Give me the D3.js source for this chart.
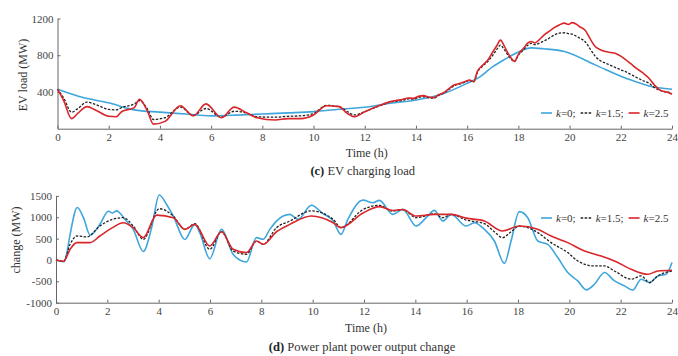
<!DOCTYPE html>
<html>
<head>
<meta charset="utf-8">
<script src="https://cdn.jsdelivr.net/npm/d3@7"></script>
<style>
  body { margin: 0; background: #fff; }
  text { font-family: "Liberation Serif", "Times New Roman", serif; fill: #333; }
  .axis path, .axis line { stroke: #666; }
</style>
</head>
<body>
<div id="chart"></div>
<script>
const width = 678, height = 356;

// ---- data: (c) EV charging load, MW
const evHoursK0 = [0, 1, 2, 3, 4, 5, 6, 7, 8, 9, 10, 11, 12, 13, 14, 15, 16, 16.5, 17, 17.5, 18, 18.5, 19, 19.8, 21, 22.2, 23.1, 24];
const evLoadK0 = [430, 340, 282, 205, 180, 160, 140, 148, 160, 172, 186, 212, 233, 277, 313, 375, 495, 565, 675, 760, 835, 880, 870, 840, 695, 550, 465, 430];

const evHours = [0, 0.25, 0.55, 0.8, 1.15, 1.5, 2, 2.3, 2.5, 3, 3.2, 3.5, 3.75, 4.2, 4.8, 5.3, 5.8, 6.4, 6.9, 7.4, 7.8, 8.5, 9, 9.5, 10, 10.5, 11, 11.3, 11.6, 12, 12.5, 13,
  13.5, 13.7, 13.9, 14.1, 14.3, 14.5, 14.7, 14.9, 15.1, 15.3, 15.5, 15.7, 15.9, 16.1, 16.25, 16.4, 16.6, 16.8, 17, 17.15, 17.3, 17.45, 17.6, 17.85,
  18, 18.2, 18.35, 18.5, 18.65, 18.8, 19, 19.2, 19.4, 19.6, 19.8, 19.95, 20.1, 20.25, 20.4, 20.6, 20.8, 21, 21.2, 21.4, 21.6, 21.8, 22, 22.2, 22.4, 22.6, 22.85,
  23.1, 23.3, 23.5, 23.7, 23.85, 24];
const evLoadK15 = [430, 330, 180, 220, 290, 262, 210, 205, 230, 270, 305, 220, 100, 120, 235, 145, 220, 125, 190, 170, 130, 125, 135, 140, 165, 255, 240, 190, 150, 185, 240, 290,
  310, 325, 322, 340, 348, 335, 332, 365, 390, 430, 468, 485, 505, 525, 508, 615, 680, 730, 800, 860, 910, 860, 800, 730,
  800, 860, 905, 930, 915, 930, 955, 985, 1020, 1040, 1045, 1035, 1030, 1010, 985, 950, 870, 790, 740, 715, 690, 665, 640, 620, 590, 560, 525,
  495, 450, 420, 405, 398, 390];
const evLoadK25 = [430, 300, 110, 170, 240, 200, 135, 130, 185, 230, 320, 200, 50, 80, 250, 140, 270, 120, 235, 170, 120, 95, 110, 110, 150, 250, 240, 170, 130, 185, 245, 295,
  320, 335, 330, 352, 360, 345, 338, 372, 395, 440, 478, 492, 510, 530, 512, 625, 690, 745, 835, 900, 965, 900, 820, 735,
  810, 875, 930, 950, 935, 965, 1020, 1060, 1100, 1130, 1150, 1135, 1155, 1140, 1110, 1075, 980, 895, 860, 840, 830, 820, 790, 750, 705, 660, 610,
  550, 480, 425, 405, 395, 375];

// ---- data: (d) power plant output change, MW
const ppHoursK0 = [0, 0.3, 0.4, 0.55, 0.83, 1.07, 1.33, 1.71, 2.04, 2.2, 2.36, 2.69, 3.01, 3.4, 3.73, 4.02, 4.31, 4.57, 5.02, 5.41, 5.6, 5.99, 6.45, 6.9, 7.16, 7.42, 7.81, 8.07, 8.33, 8.59, 9.11, 9.43, 9.95, 10.4, 10.8, 11.1, 11.37, 11.96, 12.35, 12.6, 13.12, 13.51, 14.03, 14.48, 14.74, 15.07, 15.4, 15.98, 16.3, 16.69, 17.08, 17.47, 17.73, 18.05, 18.38, 18.77, 19.16, 19.55, 19.94, 20.33, 20.66, 20.98, 21.37, 21.76, 22.15, 22.47, 22.8, 23.12, 23.45, 23.77, 24];
const ppChangeK0 = [0, -40, 100, 600, 1230, 990, 580, 834, 1140, 1100, 1150, 950, 717, 200, 763, 1520, 1300, 1028, 480, 834, 640, 30, 717, 133, 0, -47, 523, 484, 717, 911, 1067, 951, 1280, 1085, 911, 600, 951, 1400, 1341, 1395, 1067, 1184, 795, 1028, 1161, 911, 1067, 795, 872, 717, 444, -80, 444, 1131, 990, 444, 366, 56, -294, -490, -700, -568, -294, -490, -607, -708, -451, -529, -373, -335, -61];

const ppHoursK15 = [0, 0.3, 0.55, 0.81, 1.2, 1.71, 2.2, 2.62, 3.01, 3.4, 4.02, 4.57, 5.02, 5.41, 5.99, 6.45, 6.9, 7.42, 7.81, 8.07, 8.59, 9.11, 9.95, 10.8, 11.1, 11.96, 12.6, 13.12, 13.51, 14.03, 14.74, 15.07, 15.4, 15.98, 16.69, 17.08, 17.4, 17.73, 18.05, 18.38, 18.77, 19.29, 19.94, 20.33, 20.98, 21.37, 21.76, 22.41, 22.8, 23.12, 23.45, 24];
const ppChangeK15 = [0, -30, 367, 561, 540, 795, 951, 990, 795, 484, 1200, 1028, 717, 850, 250, 661, 210, 133, 444, 367, 757, 911, 1150, 951, 757, 1180, 1280, 1145, 1180, 990, 1080, 990, 1067, 935, 850, 661, 523, 661, 795, 757, 640, 406, 173, -23, -140, -140, -257, -451, -373, -529, -373, -257];

const ppHoursK25 = [0, 0.3, 0.55, 0.81, 1.33, 1.71, 2.2, 2.62, 3.01, 3.4, 3.92, 4.57, 5.02, 5.41, 5.99, 6.45, 6.9, 7.42, 7.81, 8.07, 8.59, 9.11, 9.95, 10.8, 11.1, 11.96, 12.6, 13.12, 13.51, 14.03, 14.74, 15.4, 15.98, 16.69, 17.4, 18.05, 18.77, 19.29, 19.94, 20.59, 21.24, 21.76, 22.41, 23.06, 23.45, 24];
const ppChangeK25 = [0, -30, 250, 406, 406, 561, 757, 872, 757, 523, 1050, 990, 717, 834, 326, 661, 250, 173, 444, 367, 661, 834, 1028, 872, 757, 1100, 1250, 1160, 1180, 1028, 1067, 1067, 980, 911, 680, 795, 717, 561, 406, 210, 94, -23, -218, -335, -257, -240];

const hourTicks = [0, 2, 4, 6, 8, 10, 12, 14, 16, 18, 20, 22, 24];
const evTicks = [400, 800, 1200];
const ppTicks = [-1000, -500, 0, 500, 1000, 1500];

const blue = "#3ea6dc", red = "#d8262b", black = "#222";
const serif = '"Liberation Serif", "Times New Roman", serif';

const svg = d3.select("#chart").append("svg")
    .attr("width", width)
    .attr("height", height);

function drawPanel(opt) {
    const g = svg.append("g");

    g.append("g")
        .attr("class", "axis")
        .attr("transform", `translate(0,${opt.y.range()[0]})`)
        .call(d3.axisBottom(opt.x).tickValues(hourTicks).tickFormat(d => String(d))
            .tickSize(-3).tickSizeOuter(0).tickPadding(5))
        .attr("font-family", serif)
        .call(a => a.selectAll("text").attr("font-size", 11).style("fill", "#444"));

    g.append("g")
        .attr("class", "axis")
        .attr("transform", `translate(${opt.x.range()[0]},0)`)
        .call(d3.axisLeft(opt.y).tickValues(opt.yTicks).tickFormat(d => String(d))
            .tickSize(-3).tickSizeOuter(0).tickPadding(4))
        .attr("font-family", serif)
        .call(a => a.selectAll("text").attr("font-size", 11).style("fill", "#444"));

    const line = (xs) => d3.line()
        .x((d, i) => opt.x(xs[i]))
        .y(d => opt.y(d))
        .curve(d3.curveMonotoneX);

    opt.series.forEach(s => {
        g.append("path")
            .datum(s.values)
            .attr("d", line(s.hours))
            .attr("fill", "none")
            .attr("stroke", s.color)
            .attr("stroke-width", s.w)
            .attr("stroke-dasharray", s.dash || null);
    });

    // x title and caption
    const cx = (opt.x.range()[0] + opt.x.range()[1]) / 2;
    g.append("text")
        .attr("x", cx + 2)
        .attr("y", opt.xTitleY)
        .attr("text-anchor", "middle")
        .attr("font-size", 12)
        .text("Time (h)");

    const cap = g.append("text")
        .attr("x", cx - 2)
        .attr("y", opt.captionY)
        .attr("text-anchor", "middle")
        .attr("font-size", 12.5);
    cap.append("tspan").attr("font-weight", "bold").style("fill", "#222").text(opt.captionTag);
    cap.append("tspan").text(" " + opt.caption);

    g.append("text")
        .attr("transform", `translate(${opt.yTitleX},${opt.yTitleY}) rotate(-90)`)
        .attr("text-anchor", "middle")
        .attr("font-size", 12)
        .text(opt.yTitle);

    // legend
    const lg = g.append("g").attr("transform", `translate(541,${opt.legendY})`);
    let lx = 0;
    opt.series.forEach((s, i) => {
        lg.append("line")
            .attr("x1", lx).attr("x2", lx + 11)
            .attr("y1", 0).attr("y2", 0)
            .attr("stroke", s.color)
            .attr("stroke-width", s.w)
            .attr("stroke-dasharray", s.dash || null);
        const t = lg.append("text")
            .attr("x", lx + 15)
            .attr("y", 4)
            .attr("font-size", 11);
        t.append("tspan").attr("font-style", "italic").text("k");
        t.append("tspan").text(s.label + (i < opt.series.length - 1 ? ";" : ""));
        lx += 15 + t.node().getComputedTextLength() + 5;
    });
}

drawPanel({
    x: d3.scaleLinear().domain([0, 24]).range([57.5, 672]),
    y: d3.scaleLinear().domain([0, 1200]).range([128.7, 18.5]),
    yTicks: evTicks,
    yTitle: "EV load (MW)",
    yTitleX: 27, yTitleY: 75,
    xTitleY: 157,
    captionTag: "(c)", caption: "EV charging load", captionY: 175,
    legendY: 113,
    series: [
        { hours: evHoursK0, values: evLoadK0, color: blue, w: 1.6, label: "=0" },
        { hours: evHours, values: evLoadK15, color: black, w: 1.3, dash: "2.5,1.5", label: "=1.5" },
        { hours: evHours, values: evLoadK25, color: red, w: 1.6, label: "=2.5" }
    ]
});

drawPanel({
    x: d3.scaleLinear().domain([0, 24]).range([56, 672]),
    y: d3.scaleLinear().domain([-1000, 1500]).range([302.7, 195.9]),
    yTicks: ppTicks,
    yTitle: "change (MW)",
    yTitleX: 20, yTitleY: 240,
    xTitleY: 332,
    captionTag: "(d)", caption: "Power plant power output change", captionY: 351,
    legendY: 218,
    series: [
        { hours: ppHoursK0, values: ppChangeK0, color: blue, w: 1.6, label: "=0" },
        { hours: ppHoursK15, values: ppChangeK15, color: black, w: 1.3, dash: "2.5,1.5", label: "=1.5" },
        { hours: ppHoursK25, values: ppChangeK25, color: red, w: 1.6, label: "=2.5" }
    ]
});
</script>
</body>
</html>
